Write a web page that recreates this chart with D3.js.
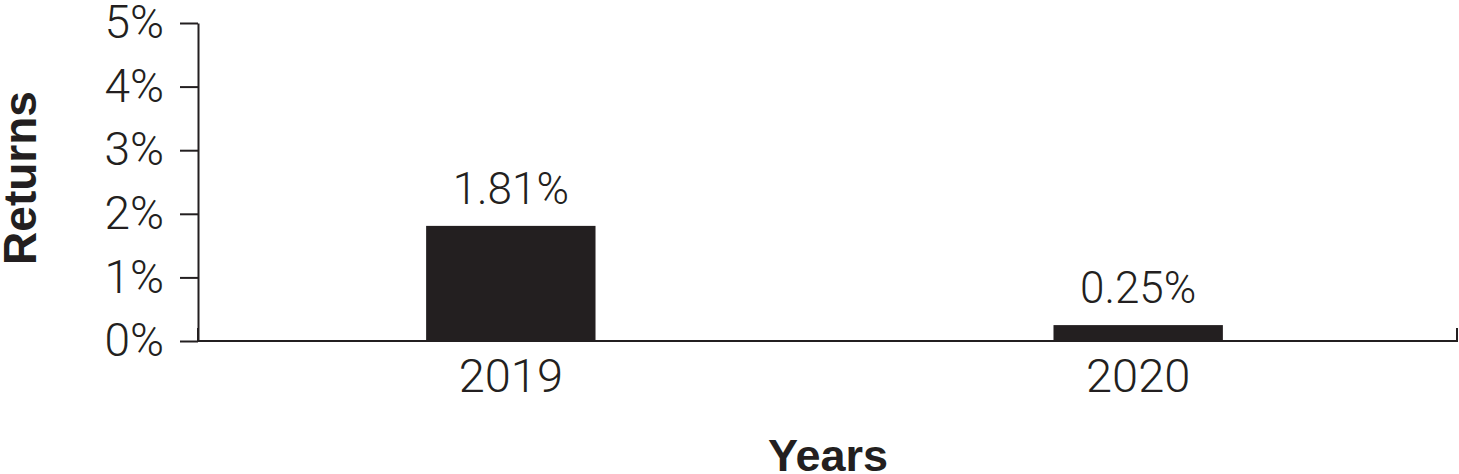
<!DOCTYPE html>
<html>
<head>
<meta charset="utf-8">
<script src="https://cdn.jsdelivr.net/npm/d3@7"></script>
<style>
  body { margin: 0; background: #fff; }
  .axis text { font-family: Roboto, "Liberation Sans", sans-serif; font-weight: 300; fill: #231f20; }
  .axis path, .axis line { stroke: #231f20; stroke-width: 2; }
  .title { font-family: "Liberation Sans", Arial, sans-serif; font-weight: bold; fill: #231f20; }
</style>
</head>
<body>
<div id="chart"></div>
<script>
// chart values
var years = ['2019', '2020'];
var returns = [1.81, 0.25];
var valueLabels = ['1.81%', '0.25%'];
var yTicks = [0, 1, 2, 3, 4, 5];

var margin = { left: 198, right: 2, top: 23, bottom: 133 };
var width = 1459 - margin.left - margin.right;
var height = 474 - margin.top - margin.bottom;

var svg = d3.select('#chart').append('svg')
    .attr('width', 1459)
    .attr('height', 474);

var g = svg.append('g')
    .attr('transform', 'translate(' + margin.left + ',' + margin.top + ')');

// band positions tuned so bar centres sit under the year labels
var x = d3.scaleBand()
    .domain(years)
    .range([-4, width - 2])
    .paddingInner(0.73)
    .paddingOuter(0.37);

var y = d3.scaleLinear()
    .domain([0, 5])
    .range([height, 0]);

// bars
g.selectAll('rect.bar')
    .data(returns)
    .enter().append('rect')
    .attr('class', 'bar')
    .attr('x', function (d, i) { return x(years[i]); })
    .attr('width', x.bandwidth())
    .attr('y', function (d) { return y(d); })
    .attr('height', function (d) { return height - y(d); })
    .attr('fill', '#231f20');

// value labels above bars
g.selectAll('text.val')
    .data(returns)
    .enter().append('text')
    .attr('class', 'val')
    .attr('x', function (d, i) { return x(years[i]) + x.bandwidth() / 2; })
    .attr('y', function (d) { return y(d) - 22; })
    .attr('text-anchor', 'middle')
    .style('font-family', 'Roboto, "Liberation Sans", sans-serif')
    .style('font-weight', 300)
    .style('font-size', '44px')
    .style('fill', '#231f20')
    .text(function (d, i) { return valueLabels[i]; });

// y axis
g.append('g')
    .attr('class', 'axis y')
    .call(d3.axisLeft(y)
        .tickValues(yTicks)
        .tickFormat(function (d) { return d + '%'; })
        .tickSize(18)
        .tickSizeOuter(0)
        .tickPadding(16))
    .selectAll('text')
    .style('font-size', '46px');

// x axis: no ticks except the small upturned ends
var xAxisG = g.append('g')
    .attr('class', 'axis x')
    .attr('transform', 'translate(0,' + height + ')')
    .call(d3.axisBottom(x)
        .tickSize(0)
        .tickSizeOuter(-13)
        .tickPadding(18));
xAxisG.select('.domain')
    .attr('d', 'M0,-13V0H' + width + 'V-13');
xAxisG.selectAll('text')
    .style('font-size', '47px');

// axis titles
svg.append('text')
    .attr('class', 'title')
    .attr('transform', 'translate(36,178) rotate(-90)')
    .attr('text-anchor', 'middle')
    .style('font-size', '46px')
    .text('Returns');

svg.append('text')
    .attr('class', 'title')
    .attr('x', 828)
    .attr('y', 471)
    .attr('text-anchor', 'middle')
    .style('font-size', '45px')
    .text('Years');
</script>
</body>
</html>
